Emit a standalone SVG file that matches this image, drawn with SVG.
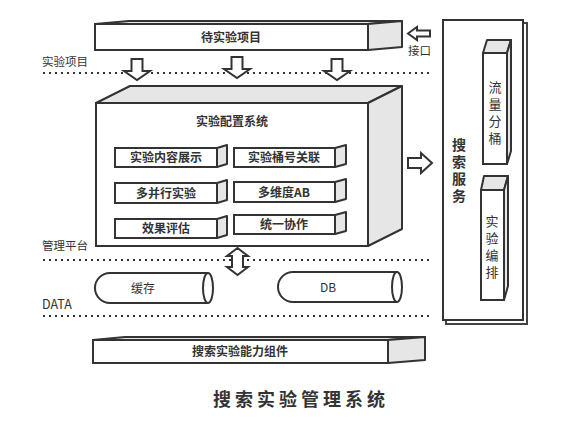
<svg xmlns="http://www.w3.org/2000/svg" width="583" height="435" viewBox="0 0 583 435">
<style>
text{font-family:"Noto Sans CJK SC","Noto Sans",sans-serif;fill:#333}
.b{font-weight:bold;font-size:12px;text-anchor:middle}
.lbl{font-size:11.5px}
.front{fill:#fff;stroke:#333;stroke-width:2}
.face{fill:#e6e6e6;stroke:#333;stroke-width:2;stroke-linejoin:round}
.arr{fill:#fff;stroke:#333;stroke-width:2;stroke-linejoin:miter}
.dot{stroke:#333;stroke-width:2;stroke-dasharray:2 4;fill:none}
.v{font-size:13px;writing-mode:vertical-rl;letter-spacing:4px}
</style>
<rect width="583" height="435" fill="#fff"/>
<g id="layers">
<line class="dot" x1="43" y1="73" x2="430" y2="73"/>
<text class="lbl" x="42" y="66">实验项目</text>
<line class="dot" x1="43" y1="260" x2="430" y2="260"/>
<text class="lbl" x="42" y="250">管理平台</text>
<line class="dot" x1="43" y1="316" x2="430" y2="316"/>
<text x="42" y="309" font-size="12.5">DATA</text>
</g>
<g id="pending">
<polygon class="face" points="95,24 129,21 402,21 368,24"/>
<polygon class="face" points="368,24 402,21 402,47 368,50"/>
<rect class="front" x="95" y="24" width="273" height="26"/>
<text class="b" x="231" y="42">待实验项目</text>
</g>
<g id="iface">
<path class="arr" d="M408,33.5 L417,27 V30.5 H430 V36.5 H417 V40 Z"/>
<text class="lbl" x="408" y="55">接口</text>
</g>
<g id="config">
<polygon class="face" points="96,103 130,86 402,86 368,103"/>
<polygon class="face" points="368,103 402,86 402,229 368,246"/>
<rect class="front" x="96" y="103" width="272" height="143"/>
<text class="b" x="232" y="126">实验配置系统</text>
</g>
<g id="n1">
<polygon class="face" points="217,148 227,145 227,164 217,167"/>
<rect class="front" x="115" y="148" width="102" height="19"/>
<text class="b" x="166" y="162">实验内容展示</text>
</g>
<g id="n2">
<polygon class="face" points="335,148 346,145 346,164 335,167"/>
<rect class="front" x="234" y="148" width="101" height="19"/>
<text class="b" x="284" y="162">实验桶号关联</text>
</g>
<g id="n3">
<polygon class="face" points="217,183 227,180 227,200 217,203"/>
<rect class="front" x="115" y="183" width="102" height="20"/>
<text class="b" x="166" y="198">多并行实验</text>
</g>
<g id="n4">
<polygon class="face" points="335,182 346,179 346,199 335,202"/>
<rect class="front" x="234" y="182" width="101" height="20"/>
<text class="b" x="284" y="197">多维度AB</text>
</g>
<g id="n5">
<polygon class="face" points="217,219 227,216 227,235 217,238"/>
<rect class="front" x="115" y="219" width="102" height="19"/>
<text class="b" x="166" y="233">效果评估</text>
</g>
<g id="n6">
<polygon class="face" points="335,215 346,212 346,231 335,234"/>
<rect class="front" x="234" y="215" width="101" height="19"/>
<text class="b" x="284" y="229">统一协作</text>
</g>
<g id="cache">
<path class="front" d="M208,273 H110 A15,15 0 0 0 110,303 H208"/>
<ellipse class="front" cx="208" cy="288" rx="5" ry="15"/>
<text x="143" y="293" font-size="12" text-anchor="middle">缓存</text>
</g>
<g id="db">
<path class="front" d="M397,272 H293 A15,15 0 0 0 293,302 H397"/>
<ellipse class="front" cx="397" cy="287" rx="5" ry="15"/>
<text x="328" y="292" font-size="12" text-anchor="middle">DB</text>
</g>
<g id="ability">
<polygon class="face" points="93,340 125,337 425,337 388,340"/>
<polygon class="face" points="388,340 425,337 425,360 388,363"/>
<rect class="front" x="93" y="340" width="295" height="23"/>
<text class="b" x="240" y="356">搜索实验能力组件</text>
</g>
<g id="search">
<rect x="446" y="23" width="81" height="301" fill="#fff" stroke="#444" stroke-width="2"/>
<rect class="front" x="443" y="20" width="80" height="300"/>
<text x="459" y="138" font-size="14" font-weight="bold" style="writing-mode:vertical-rl;letter-spacing:3px">搜索服务</text>
</g>
<g id="bucket">
<polygon class="face" points="483,53 487,40 511,40 507,53"/>
<polygon class="face" points="507,53 511,40 511,151 507,164"/>
<rect class="front" x="483" y="53" width="24" height="111"/>
<text class="v" x="495" y="81">流量分桶</text>
</g>
<g id="arrange">
<polygon class="face" points="481,190 484,176 508,176 504,190"/>
<polygon class="face" points="504,190 508,176 508,286 504,300"/>
<rect class="front" x="481" y="190" width="23" height="110"/>
<text class="v" x="492" y="215">实验编排</text>
</g>
<g id="connectors">
<path class="arr" d="M131.5,59 H142.5 V71 H150 L137,80 L124,71 H131.5 Z"/>
<path class="arr" d="M231.5,57 H242.5 V69 H250 L237,78 L224,69 H231.5 Z"/>
<path class="arr" d="M331.5,59 H342.5 V71 H350 L337,80 L324,71 H331.5 Z"/>
<path class="arr" d="M408,158 H421 V153 L432,163 L421,173 V168 H408 Z"/>
<path class="arr" d="M237.5,248 L248,256 H243 V267 H248 L237.5,275 L227,267 H232 V256 H227 Z"/>
</g>
<text x="301" y="406" font-size="18" font-weight="bold" text-anchor="middle" letter-spacing="4">搜索实验管理系统</text>
</svg>
